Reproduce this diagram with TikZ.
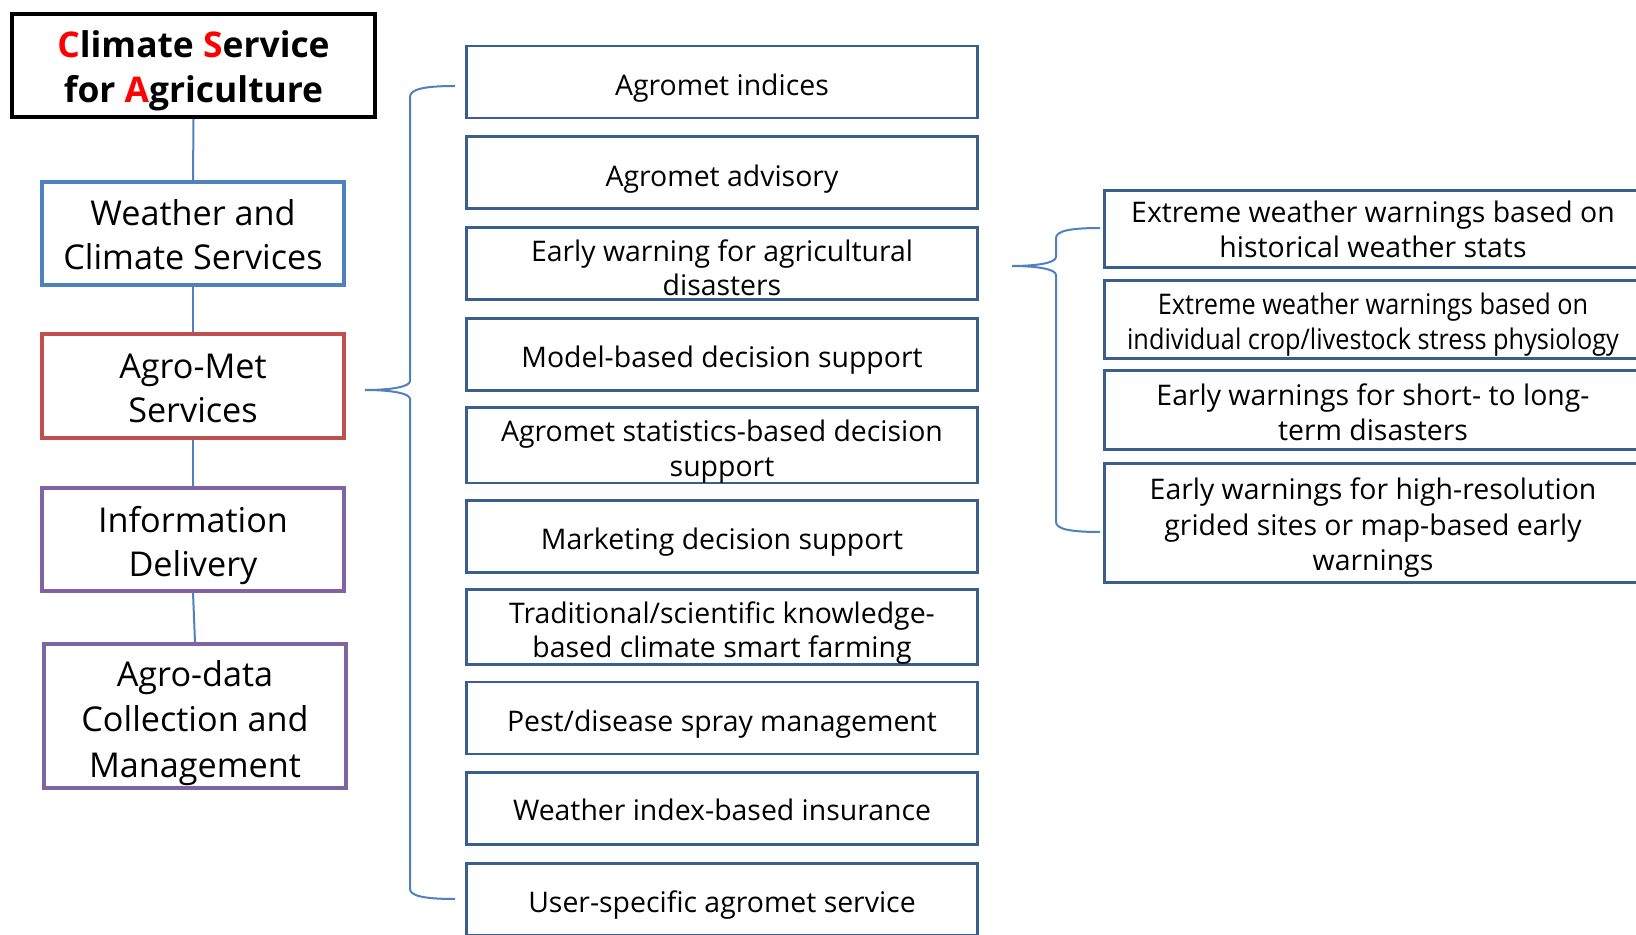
\documentclass[tikz,border=0pt]{standalone}
\usepackage{fontspec}
\usepackage{graphicx}
\setmainfont{Open Sans}
\definecolor{wblue}{HTML}{4F81BD}
\definecolor{ared}{HTML}{C0504D}
\definecolor{ipurple}{HTML}{8064A2}
\definecolor{mbord}{HTML}{3A5F8C}
\definecolor{lnk}{HTML}{4F81BD}
\newcommand\lift[1]{\rule{0pt}{#1}}
\begin{document}
\begin{tikzpicture}[x=0.5pt,y=-0.5pt,
  box/.style={draw, rectangle, align=center, inner sep=0pt, text=black},
  tsh/.style={execute at begin node={\rule{0pt}{#1}}},
  lbox/.style={box, line width=2pt, minimum width=151pt, minimum height=51.5pt, font=\fontsize{17.1}{22}\selectfont},
  mbox/.style={box, draw=mbord, line width=1.4pt, minimum width=255.5pt, minimum height=36pt, font=\fontsize{14.2}{17.2}\selectfont},
  rbox/.style={box, draw=mbord, line width=1.4pt, minimum width=268.5pt, font=\fontsize{14.2}{17.6}\selectfont},
  link/.style={draw=lnk, line width=1pt},
  bracestyle/.style={draw=lnk, line width=1pt}]
\useasboundingbox (0,0) rectangle (1636,935);
\clip (0,0) rectangle (1636,935);

% left column
\node[box, line width=2.2pt, minimum width=181.5pt, minimum height=51.5pt,
  font=\bfseries\fontsize{17.7}{22.5}\selectfont] (title) at (193.5,65.5)
  {\lift{18.7pt}\textcolor{red}{C}limate \textcolor{red}{S}ervice\\for \textcolor{red}{A}griculture};
\node[lbox, draw=wblue] (wcs) at (193,233.5) {\lift{14pt}Weather and\\Climate Services};
\node[lbox, draw=ared] (ams) at (193,386) {\lift{15pt}Agro-Met\\Services};
\node[lbox, draw=ipurple] (info) at (193,539) {\lift{19.2pt}Information\\Delivery};
\node[lbox, draw=ipurple, minimum height=72pt,
  font=\fontsize{17.1}{22.6}\selectfont] (adata) at (195,716) {\lift{20pt}Agro-data\\Collection and\\Management};

\draw[link] (title.south) -- (wcs.north);
\draw[link] (wcs.south) -- (ams.north);
\draw[link] (ams.south) -- (info.north);
\draw[link] (info.south) -- (adata.north);

% middle column
\node[mbox, tsh=16.8pt] (m1) at (722,82) {Agromet indices};
\node[mbox, tsh=16.8pt] (m2) at (722,172.85) {Agromet advisory};
\node[mbox] (m3) at (722,263.7) {\lift{15pt}Early warning for agricultural\\disasters};
\node[mbox, tsh=16.8pt] (m4) at (722,354.55) {Model-based decision support};
\node[mbox] (m5) at (722,445.4) {\lift{17pt}Agromet statistics-based decision\\support};
\node[mbox, tsh=16.8pt] (m6) at (722,536.25) {Marketing decision support};
\node[mbox] (m7) at (722,627.1) {\lift{17pt}Traditional/scientific knowledge-\\based climate smart farming};
\node[mbox, tsh=16.8pt] (m8) at (722,717.95) {Pest/disease spray management};
\node[mbox, tsh=12pt] (m9) at (722,808.8) {Weather index-based insurance};
\node[mbox, tsh=15.8pt] (m10) at (722,899.65) {User-specific agromet service};

% right column
\node[rbox, minimum height=38.5pt] (r1) at (1373,229) {\lift{11.5pt}Extreme weather warnings based on\\historical weather stats};
\node[rbox, minimum height=39pt] (r2) at (1373,319.5) {\lift{16pt}\scalebox{0.89}[1]{Extreme weather warnings based on}\\\scalebox{0.89}[1]{individual crop/livestock stress physiology}};
\node[rbox, minimum height=39.5pt] (r3) at (1373,410) {\lift{12.8pt}Early warnings for short- to long-\\term disasters};
\node[rbox, minimum height=59.5pt] (r4) at (1373,523) {\lift{15.5pt}Early warnings for high-resolution\\grided sites or map-based early\\warnings};

% braces
\coordinate (b1top) at (455,86);
\coordinate (b1tip) at (365,390);
\coordinate (b1bot) at (455,899);
\draw[bracestyle] (b1top) .. controls (425,86) and (410,89) .. (410,97)
  -- (410,381) .. controls (410,387) and (390,390) .. (b1tip)
  .. controls (390,390) and (410,393) .. (410,399)
  -- (410,889) .. controls (410,896) and (425,899) .. (b1bot);

\coordinate (b2top) at (1100,228);
\coordinate (b2tip) at (1012,266);
\coordinate (b2bot) at (1100,532);
\draw[bracestyle] (b2top) .. controls (1070,228) and (1056,231) .. (1056,238)
  -- (1056,257) .. controls (1056,263) and (1036,266) .. (b2tip)
  .. controls (1036,266) and (1056,269) .. (1056,275)
  -- (1056,522) .. controls (1056,529) and (1070,532) .. (b2bot);
\end{tikzpicture}
\end{document}
